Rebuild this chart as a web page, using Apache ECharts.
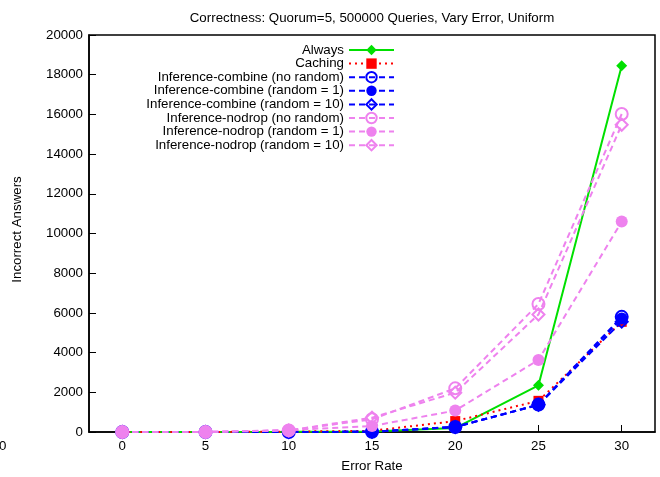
<!DOCTYPE html>
<html>
<head>
<meta charset="utf-8">
<script src="https://cdn.jsdelivr.net/npm/echarts@6/dist/echarts.min.js"></script>
<style>
  html, body { margin: 0; padding: 0; background: #fff; }
  #chart { width: 660px; height: 477px; }
</style>
</head>
<body>
<div id="chart"></div>
<script>
// Incorrect answers per error rate, one array per strategy
const errorRates = [0, 5, 10, 15, 20, 25, 30];
const xTicks = [0, 5, 10, 15, 20, 25, 30];

const always          = [0, 0, 10, 30, 200, 2350, 18450];
const caching         = [0, 0, 20, 60, 550, 1570, 5550];
const combineNoRandom = [0, 0, 0, 10, 250, 1380, 5800];
const combineRandom1  = [0, 0, 0, 10, 260, 1360, 5720];
const combineRandom10 = [0, 0, 0, 10, 250, 1370, 5560];
const nodropNoRandom  = [0, 0, 80, 640, 2200, 6450, 16020];
const nodropRandom1   = [0, 0, 100, 300, 1080, 3630, 10600];
const nodropRandom10  = [0, 0, 80, 720, 1980, 5920, 15480];

const seriesNames = [
  'Always',
  'Caching',
  'Inference-combine (no random)',
  'Inference-combine (random = 1)',
  'Inference-combine (random = 10)',
  'Inference-nodrop (no random)',
  'Inference-nodrop (random = 1)',
  'Inference-nodrop (random = 10)'
];
const seriesValues = [always, caching, combineNoRandom, combineRandom1, combineRandom10,
                      nodropNoRandom, nodropRandom1, nodropRandom10];

const GREEN = '#00e000', RED = '#ff0000', BLUE = '#0000ff', VIOLET = '#ee82ee';
const FONT = '"Liberation Sans", Arial, Helvetica, sans-serif';
const FS = 13.3;

// marker / line style per series
const styles = [
  { color: GREEN,  dash: null,   symbol: 'diamond', size: 11, hollow: false },
  { color: RED,    dash: [2, 4], symbol: 'rect',    size: 10, hollow: false },
  { color: BLUE,   dash: [6, 4], symbol: 'circle',  size: 12, hollow: true  },
  { color: BLUE,   dash: [6, 4], symbol: 'circle',  size: 12, hollow: false },
  { color: BLUE,   dash: [6, 4], symbol: 'diamond', size: 12, hollow: true  },
  { color: VIOLET, dash: [6, 4], symbol: 'circle',  size: 12, hollow: true  },
  { color: VIOLET, dash: [6, 4], symbol: 'circle',  size: 12, hollow: false },
  { color: VIOLET, dash: [6, 4], symbol: 'diamond', size: 12, hollow: true  }
];

const series = seriesNames.map((name, i) => {
  const s = styles[i];
  return {
    name: name,
    type: 'line',
    data: errorRates.map((x, k) => [x, seriesValues[i][k]]),
    symbol: s.symbol,
    symbolSize: s.size,
    showAllSymbol: true,
    lineStyle: { color: s.color, width: 2, type: s.dash || 'solid' },
    itemStyle: s.hollow
      ? { color: 'rgba(255,255,255,0)', borderColor: s.color, borderWidth: 2 }
      : { color: s.color, borderWidth: 0 },
    emphasis: { disabled: true },
    z: 2 + i
  };
});

// one legend per entry so all the keys line up on the right edge
const legendRowTop = 43.5, legendRowStep = 13.6;
const legends = seriesNames.map((name, i) => ({
  data: [name],
  right: 265,
  top: legendRowTop + i * legendRowStep,
  align: 'right',
  orient: 'vertical',
  itemWidth: 45,
  itemHeight: 13,
  itemGap: 0,
  padding: 0,
  selectedMode: false,
  textStyle: { fontFamily: FONT, fontSize: FS, color: '#000' }
}));

const chart = echarts.init(document.getElementById('chart'), null, { renderer: 'canvas' });
chart.setOption({
  animation: false,
  backgroundColor: '#fff',
  title: {
    text: 'Correctness: Quorum=5, 500000 Queries, Vary Error, Uniform',
    left: 367, top: 7, textAlign: 'center',
    textStyle: { fontFamily: FONT, fontSize: FS, fontWeight: 'normal', color: '#000' }
  },
  legend: legends,
  grid: {
    left: 89, right: 5, top: 35, bottom: 45,
    containLabel: false,
    outerBoundsMode: 'none',
    show: true, borderColor: '#000', borderWidth: 1.5, backgroundColor: 'transparent'
  },
  xAxis: {
    type: 'value',
    min: -2, max: 32,
    name: 'Error Rate',
    nameLocation: 'middle',
    nameGap: 28,
    nameTextStyle: { fontFamily: FONT, fontSize: FS, color: '#000' },
    axisLine: { show: true, onZero: false, lineStyle: { color: '#000', width: 1.5 } },
    axisTick: { show: true, inside: true, length: 7, customValues: xTicks, lineStyle: { color: '#000', width: 1 } },
    axisLabel: { fontFamily: FONT, fontSize: FS, color: '#000', margin: 8, customValues: xTicks },
    splitLine: { show: false }
  },
  yAxis: {
    type: 'value',
    min: 0, max: 20000, interval: 2000,
    name: 'Incorrect Answers',
    nameLocation: 'middle',
    nameGap: 65,
    nameRotate: 90,
    nameTextStyle: { fontFamily: FONT, fontSize: FS, color: '#000', padding: [0, 0, 0, 8] },
    axisLine: { show: true, onZero: false, lineStyle: { color: '#000', width: 1.5 } },
    axisTick: { show: true, inside: true, length: 7, lineStyle: { color: '#000', width: 1 } },
    axisLabel: { fontFamily: FONT, fontSize: FS, color: '#000', margin: 6, formatter: v => String(v) },
    splitLine: { show: false }
  },
  graphic: [{
    type: 'text',
    left: -1, top: 440,
    style: { text: '0', fontFamily: FONT, fontSize: FS, fill: '#000' }
  }],
  series: series
});
</script>
</body>
</html>
